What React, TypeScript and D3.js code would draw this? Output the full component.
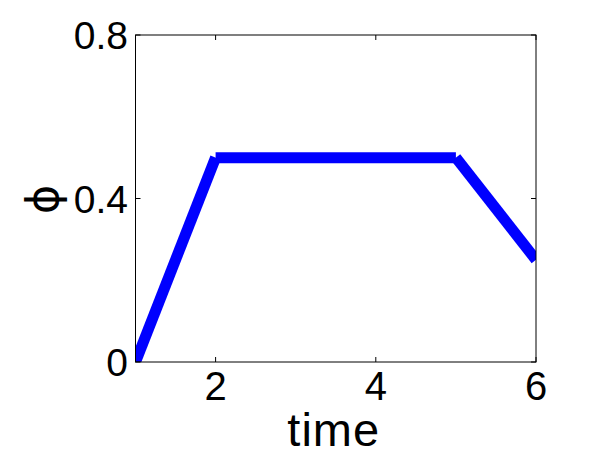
import React from "react";
import * as d3 from "d3";

const times = [1, 2, 5, 6];
const phiValues = [0, 0.5, 0.5, 0.25];
const xTicks = [2, 4, 6];
const yTicks = [0, 0.4, 0.8];
const xTickLabels = ["2", "4", "6"];
const yTickLabels = ["0", "0.4", "0.8"];

const W = 592, H = 464;
const L = 135.5, R = 536, T = 35, B = 362;

export default function App() {
  const x = d3.scaleLinear().domain([1, 6]).range([L, R]);
  const y = d3.scaleLinear().domain([0, 0.8]).range([B, T]);
  const segs = times.slice(1).map((t, i) => ({
    x1: x(times[i]), y1: y(phiValues[i]), x2: x(t), y2: y(phiValues[i + 1]),
  }));
  const font = "'Liberation Sans', Arial, sans-serif";
  return (
    <svg width={W} height={H} style={{ position: "absolute", left: 0, top: 0, background: "#fff" }}>
      <defs>
        <clipPath id="clip">
          <rect x={L} y={T} width={R - L} height={B - T} />
        </clipPath>
      </defs>
      <rect x={0} y={0} width={W} height={H} fill="#fff" />
      <g clipPath="url(#clip)">
        {segs.map((s, i) => (
          <line key={i} x1={s.x1} y1={s.y1} x2={s.x2} y2={s.y2} stroke="#0000ff" strokeWidth={11} strokeLinecap="butt" />
        ))}
      </g>
      <rect x={L} y={T} width={R - L} height={B - T} fill="none" stroke="#000" strokeWidth={1} />
      {xTicks.map((t) => (
        <g key={"xt" + t}>
          <line x1={x(t)} x2={x(t)} y1={B} y2={B - 5} stroke="#000" />
          <line x1={x(t)} x2={x(t)} y1={T} y2={T + 5} stroke="#000" />
        </g>
      ))}
      {yTicks.map((t) => (
        <g key={"yt" + t}>
          <line x1={L} x2={L + 5} y1={y(t)} y2={y(t)} stroke="#000" />
          <line x1={R} x2={R - 5} y1={y(t)} y2={y(t)} stroke="#000" />
        </g>
      ))}
      {xTicks.map((t, i) => (
        <text key={"xl" + t} x={x(t)} y={400} textAnchor="middle" fontFamily={font} fontSize={40} fill="#000">
          {xTickLabels[i]}
        </text>
      ))}
      {yTicks.map((t, i) => (
        <text key={"yl" + t} x={128} y={y(t) + 14} textAnchor="end" fontFamily={font} fontSize={39} fill="#000">
          {yTickLabels[i]}
        </text>
      ))}
      <text x={x(3.5) - 2} y={446} textAnchor="middle" fontFamily={font} fontSize={47} letterSpacing={1} fill="#000">time</text>
      <text transform={`translate(58,${y(0.4) + 1}) rotate(-90)`} textAnchor="middle" fontFamily="'DejaVu Sans', sans-serif" fontSize={45} fill="#000">ϕ</text>
    </svg>
  );
}
